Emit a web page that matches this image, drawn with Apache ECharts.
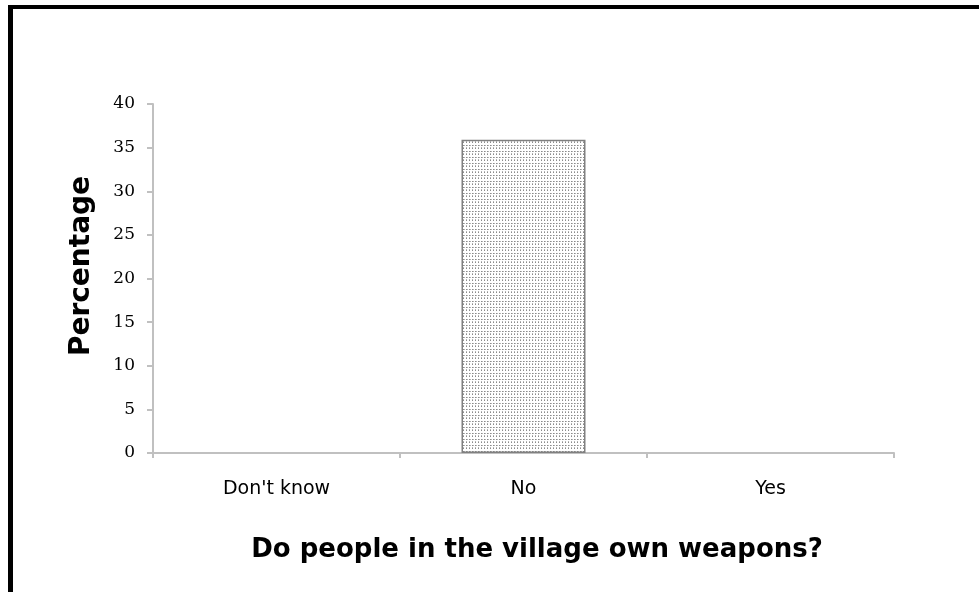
<!DOCTYPE html>
<html><head><meta charset="utf-8">
<script src="https://cdn.jsdelivr.net/npm/echarts@6/dist/echarts.min.js"></script>
<style>html,body{margin:0;padding:0;background:#fff}#c{width:979px;height:592px}</style>
</head><body><div id="c"></div>
<script>
const categories = ["Don't know", "No", "Yes"];
const values = [0, 35.9, 0];
const yTicks = [0, 5, 10, 15, 20, 25, 30, 35, 40];
const xTitle = 'Do people in the village own weapons?';
const yTitle = 'Percentage';

const pc = document.createElement('canvas');
pc.width = 6; pc.height = 6;
const g = pc.getContext('2d');
g.fillStyle = '#ffffff'; g.fillRect(0,0,6,6);
g.fillStyle = '#8c8c8c';
[[1,1],[4,1],[1,4],[4,4]].forEach(p=>g.fillRect(p[0],p[1],1,1));
g.fillStyle = '#b4b4b4';
[[2,1],[5,1],[1,3],[4,3]].forEach(p=>g.fillRect(p[0],p[1],1,1));

const chart = echarts.init(document.getElementById('c'), null, {renderer:'canvas'});
chart.setOption({
  animation:false,
  backgroundColor:'#fff',
  graphic:[
    {type:'rect', shape:{x:8,y:5,width:980,height:4}, style:{fill:'#000'}},
    {type:'rect', shape:{x:8,y:5,width:5,height:600}, style:{fill:'#000'}},
    {type:'text', x:537, y:550, style:{text:xTitle, fill:'#000', font:'bold 26px "DejaVu Sans"', align:'center', verticalAlign:'middle'}},
    {type:'text', x:82, y:266, rotation:Math.PI/2, style:{text:yTitle, fill:'#000', font:'bold 28px "DejaVu Sans"', align:'center', verticalAlign:'middle'}}
  ],
  grid:{left:153,right:85,top:104,bottom:139},
  xAxis:{type:'category',data:categories,
    axisLine:{lineStyle:{color:'#c0c0c0',width:2}},
    axisTick:{show:true,length:5,lineStyle:{color:'#c0c0c0',width:2}},
    axisLabel:{color:'#000',fontFamily:'DejaVu Sans',fontSize:19,margin:27}
  },
  yAxis:{type:'value',min:0,max:40,interval:5,
    axisLine:{show:true,lineStyle:{color:'#c0c0c0',width:2}},
    axisTick:{show:true,length:6,lineStyle:{color:'#c0c0c0',width:2}},
    splitLine:{show:false},
    axisLabel:{color:'#000',fontFamily:'DejaVu Serif',fontSize:17,margin:18,
      formatter:v=>yTicks.includes(v)?String(v):''}
  },
  series:[{type:'bar',barWidth:124,
    data:values.map(v=>({value:v, itemStyle:{borderWidth:v===0?0:1.5}})),
    itemStyle:{color:{image:pc,repeat:'repeat'},borderColor:'#808080'}}]
});
</script></body></html>
